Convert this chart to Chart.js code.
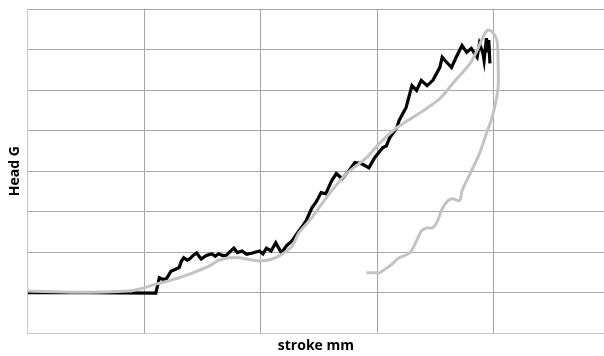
<!DOCTYPE html>
<html>
<head>
<meta charset="utf-8">
<script src="https://cdn.jsdelivr.net/npm/chart.js@4"></script>
<style>
  html, body { margin: 0; padding: 0; background: #fff; }
  #wrap { width: 604px; height: 356px; }
</style>
</head>
<body>
<div id="wrap"><canvas id="chart"></canvas></div>
<script>
// measured run (black, noisy)
var strokeA = [0, 0.5, 1.10, 1.13, 1.16, 1.19, 1.23, 1.27, 1.30, 1.32, 1.34, 1.37, 1.39, 1.42, 1.45, 1.49, 1.53, 1.58, 1.61, 1.64, 1.67, 1.70, 1.74, 1.77, 1.80, 1.84, 1.88, 1.93, 1.99, 2.02, 2.05, 2.09, 2.13, 2.18, 2.22, 2.27, 2.31, 2.35, 2.39, 2.44, 2.48, 2.52, 2.56, 2.61, 2.65, 2.70, 2.76, 2.81, 2.87, 2.93, 2.98, 3.05, 3.08, 3.11, 3.17, 3.19, 3.25, 3.30, 3.34, 3.38, 3.43, 3.48, 3.54, 3.56, 3.60, 3.64, 3.68, 3.73, 3.77, 3.81, 3.86, 3.88, 3.91, 3.92, 3.94, 3.95, 3.96, 3.97];
var headA   = [1.0, 1.0, 0.99, 1.37, 1.33, 1.34, 1.53, 1.58, 1.62, 1.78, 1.86, 1.80, 1.83, 1.92, 1.98, 1.83, 1.91, 1.96, 1.90, 1.96, 1.92, 1.91, 2.02, 2.10, 1.99, 2.03, 1.95, 1.98, 2.03, 1.96, 2.10, 2.03, 2.23, 1.98, 2.15, 2.28, 2.45, 2.60, 2.77, 3.09, 3.25, 3.47, 3.44, 3.76, 3.94, 3.81, 4.01, 4.21, 4.18, 4.08, 4.33, 4.58, 4.62, 4.83, 5.07, 5.25, 5.57, 6.11, 5.99, 6.24, 6.11, 6.24, 6.56, 6.81, 6.68, 6.56, 6.81, 7.10, 6.93, 7.03, 6.81, 7.15, 6.91, 6.73, 7.28, 6.93, 7.23, 6.66];

// reference run (grey, loops back on unloading)
var strokeB = [0, 0.44, 0.87, 0.96, 1.10, 1.21, 1.39, 1.56, 1.64, 1.73, 1.82, 1.99, 2.10, 2.19, 2.27, 2.33, 2.44, 2.59, 2.74, 2.91, 3.02, 3.17, 3.36, 3.54, 3.65, 3.80, 3.86, 3.91, 3.95, 3.99, 4.03, 4.04, 4.04, 4.01, 3.98, 3.94, 3.88, 3.80, 3.73, 3.71, 3.65, 3.61, 3.56, 3.52, 3.48, 3.43, 3.38, 3.34, 3.28, 3.19, 3.11, 3.02, 3.00, 2.91];
var headB   = [1.04, 1.01, 1.04, 1.09, 1.21, 1.29, 1.46, 1.66, 1.80, 1.86, 1.86, 1.78, 1.83, 1.96, 2.15, 2.48, 2.85, 3.44, 3.94, 4.33, 4.68, 5.07, 5.42, 5.79, 6.16, 6.66, 6.98, 7.30, 7.48, 7.43, 7.23, 6.73, 6.06, 5.57, 5.25, 4.93, 4.43, 3.94, 3.51, 3.27, 3.32, 3.27, 3.07, 2.77, 2.60, 2.60, 2.52, 2.28, 1.98, 1.86, 1.66, 1.49, 1.49, 1.49];

var xTicks = [0, 1, 2, 3, 4];

function pts(xs, ys) {
    return xs.map(function (x, i) { return { x: x, y: ys[i] }; });
}

Chart.defaults.font.family = "'Open Sans', sans-serif";
Chart.defaults.color = '#000';

new Chart(document.getElementById('chart'), {
    type: 'scatter',
    data: {
        datasets: [
            {
                label: 'measured',
                data: pts(strokeA, headA),
                showLine: true,
                borderColor: '#000',
                borderWidth: 3.2,
                pointRadius: 0,
                tension: 0,
                order: 2
            },
            {
                label: 'reference',
                data: pts(strokeB, headB),
                showLine: true,
                borderColor: '#c3c3c3',
                borderWidth: 3,
                pointRadius: 0,
                tension: 0.3,
                order: 1
            }
        ]
    },
    options: {
        responsive: true,
        maintainAspectRatio: false,
        animation: false,
        layout: { padding: { top: 9, left: 5, right: 0, bottom: 0 } },
        plugins: { legend: { display: false }, tooltip: { enabled: false } },
        scales: {
            x: {
                min: 0,
                max: 4.95,
                afterBuildTicks: function (axis) {
                    axis.ticks = xTicks.map(function (v) { return { value: v }; });
                },
                ticks: { display: false },
                grid: {
                    color: function (ctx) {
                        return ctx.tick && ctx.tick.value > 4 ? 'rgba(0,0,0,0)' : '#a6a6a6';
                    },
                    drawTicks: false
                },
                border: { color: '#c8c8c8', width: 1 },
                title: {
                    display: true,
                    text: 'stroke mm',
                    font: { size: 14, weight: 'bold' },
                    padding: { top: 4, bottom: 2 }
                }
            },
            y: {
                min: 0,
                max: 8,
                ticks: { display: false, stepSize: 1 },
                grid: { color: '#a6a6a6', drawTicks: false },
                border: { color: '#c8c8c8', width: 1 },
                title: {
                    display: true,
                    text: 'Head G',
                    font: { size: 14, weight: 'bold' },
                    padding: { top: 2, bottom: 4 }
                }
            }
        }
    }
});
</script>
</body>
</html>
